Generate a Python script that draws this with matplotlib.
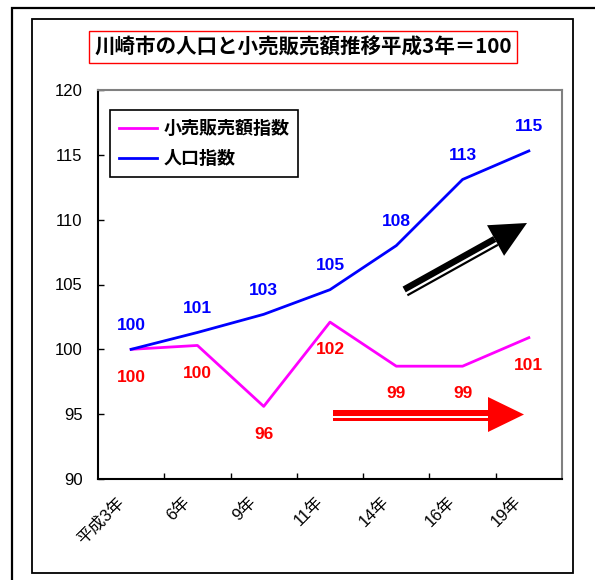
import numpy as np
import matplotlib
matplotlib.use('Agg')
import matplotlib.pyplot as plt
from matplotlib.patches import Rectangle, Polygon
from matplotlib.transforms import ScaledTranslation

plt.rcParams['font.family'] = ['Liberation Sans', 'Noto Sans CJK JP']

# data
years = ['平成3年', '6年', '9年', '11年', '14年', '16年', '19年']
population = [100.0, 101.3, 102.7, 104.6, 108.0, 113.1, 115.3]
retail = [100.0, 100.3, 95.6, 102.1, 98.7, 98.7, 100.9]
population_labels = ['100', '101', '103', '105', '108', '113', '115']
retail_labels = ['100', '100', '96', '102', '99', '99', '101']

W, H = 595, 580
fig = plt.figure(figsize=(W / 100, H / 100), dpi=100)


def fx(x):
    return x / W


def fy(y):
    return 1 - y / H


# frames around the chart
fig.add_artist(Rectangle((fx(12), fy(700)), fx(700), (700 - 8) / H,
                         transform=fig.transFigure, fill=False, ec='black', lw=1.6))
fig.add_artist(Rectangle((fx(32), fy(573)), fx(573 - 32), (573 - 19) / H,
                         transform=fig.transFigure, fill=False, ec='black', lw=1.3))

# plot area
ax = fig.add_axes([fx(98), fy(479), fx(562 - 98), (479 - 90) / H])
x = np.arange(len(years))
ax.plot(x, retail, color='#FF00FF', lw=2.0, label='小売販売額指数')
ax.plot(x, population, color='#0000FF', lw=2.0, label='人口指数')

for xi, v, s in zip(x, population, population_labels):
    ax.annotate(s, (xi, v), xytext=(0, 17.5), textcoords='offset points',
                ha='center', va='center', color='#0000FF', fontsize=12.5,
                fontweight='bold', family=['Liberation Sans'])
for xi, v, s in zip(x, retail, retail_labels):
    ax.annotate(s, (xi, v), xytext=(0, -20), textcoords='offset points',
                ha='center', va='center', color='#FF0000', fontsize=12.5,
                fontweight='bold', family=['Liberation Sans'])

ax.set_xlim(-0.5, len(years) - 0.5)
ax.set_ylim(90, 120)
ax.set_yticks(np.arange(90, 121, 5))
ax.set_xticks(x)
ax.set_xticklabels(years, rotation=45, ha='right', va='top', rotation_mode='anchor')
ax.set_xticks(np.arange(0.5, len(years) - 0.5, 1), minor=True)
ax.tick_params(axis='x', which='major', length=0, labelsize=12, pad=8)
ax.tick_params(axis='x', which='minor', direction='in', length=4, width=1)
ax.tick_params(axis='y', direction='in', length=4, width=1, labelsize=12, pad=11)
shift = ScaledTranslation(-15 / 100, -4 / 100, fig.dpi_scale_trans)
for lab in ax.get_xticklabels():
    lab.set_transform(lab.get_transform() + shift)
for side in ['left', 'bottom']:
    ax.spines[side].set_linewidth(1.5)
    ax.spines[side].set_color('black')
for side in ['top', 'right']:
    ax.spines[side].set_linewidth(1.5)
    ax.spines[side].set_color('#808080')

leg = ax.legend(loc='upper left', bbox_to_anchor=(fx(110), fy(110)),
                bbox_transform=fig.transFigure, borderaxespad=0, frameon=True,
                fancybox=False, edgecolor='black', framealpha=1,
                prop={'family': 'Noto Sans CJK JP', 'weight': 'bold', 'size': 13},
                handlelength=2.1, handletextpad=0.35, labelspacing=0.6,
                borderpad=0.5)
leg.get_frame().set_linewidth(1.2)

# title
fig.text(fx(303), fy(47), '川崎市の人口と小売販売額推移平成3年＝100',
         ha='center', va='center', fontsize=14.8, fontweight='bold',
         family=['Noto Sans CJK JP'],
         bbox=dict(boxstyle='square,pad=0.25', fc='white', ec='red', lw=1))


def double_arrow(tail, tip, color):
    tail = np.array(tail, float)
    tip = np.array(tip, float)
    d = tip - tail
    u = d / np.hypot(*d)
    n = np.array([-u[1], u[0]])
    if n[1] < 0:
        n = -n
    head_len, head_half = 36, 17.5
    base = tip - u * head_len

    def band(a, b):
        pts = [tail + n * a, base + n * a, base + n * b, tail + n * b]
        return [(fx(p[0]), fy(p[1])) for p in pts]

    for a, b in [(-5, 1.5), (3.8, 6)]:
        fig.add_artist(Polygon(band(a, b), closed=True, transform=fig.transFigure,
                               fc=color, ec='none'))
    head = [tip, base + n * head_half, base - n * head_half]
    fig.add_artist(Polygon([(fx(p[0]), fy(p[1])) for p in head], closed=True,
                           transform=fig.transFigure, fc=color, ec='none'))


double_arrow((405, 291), (527, 223), 'black')
double_arrow((333, 414.5), (524, 414.5), '#FF0000')

fig.savefig('out.png', dpi=100)
